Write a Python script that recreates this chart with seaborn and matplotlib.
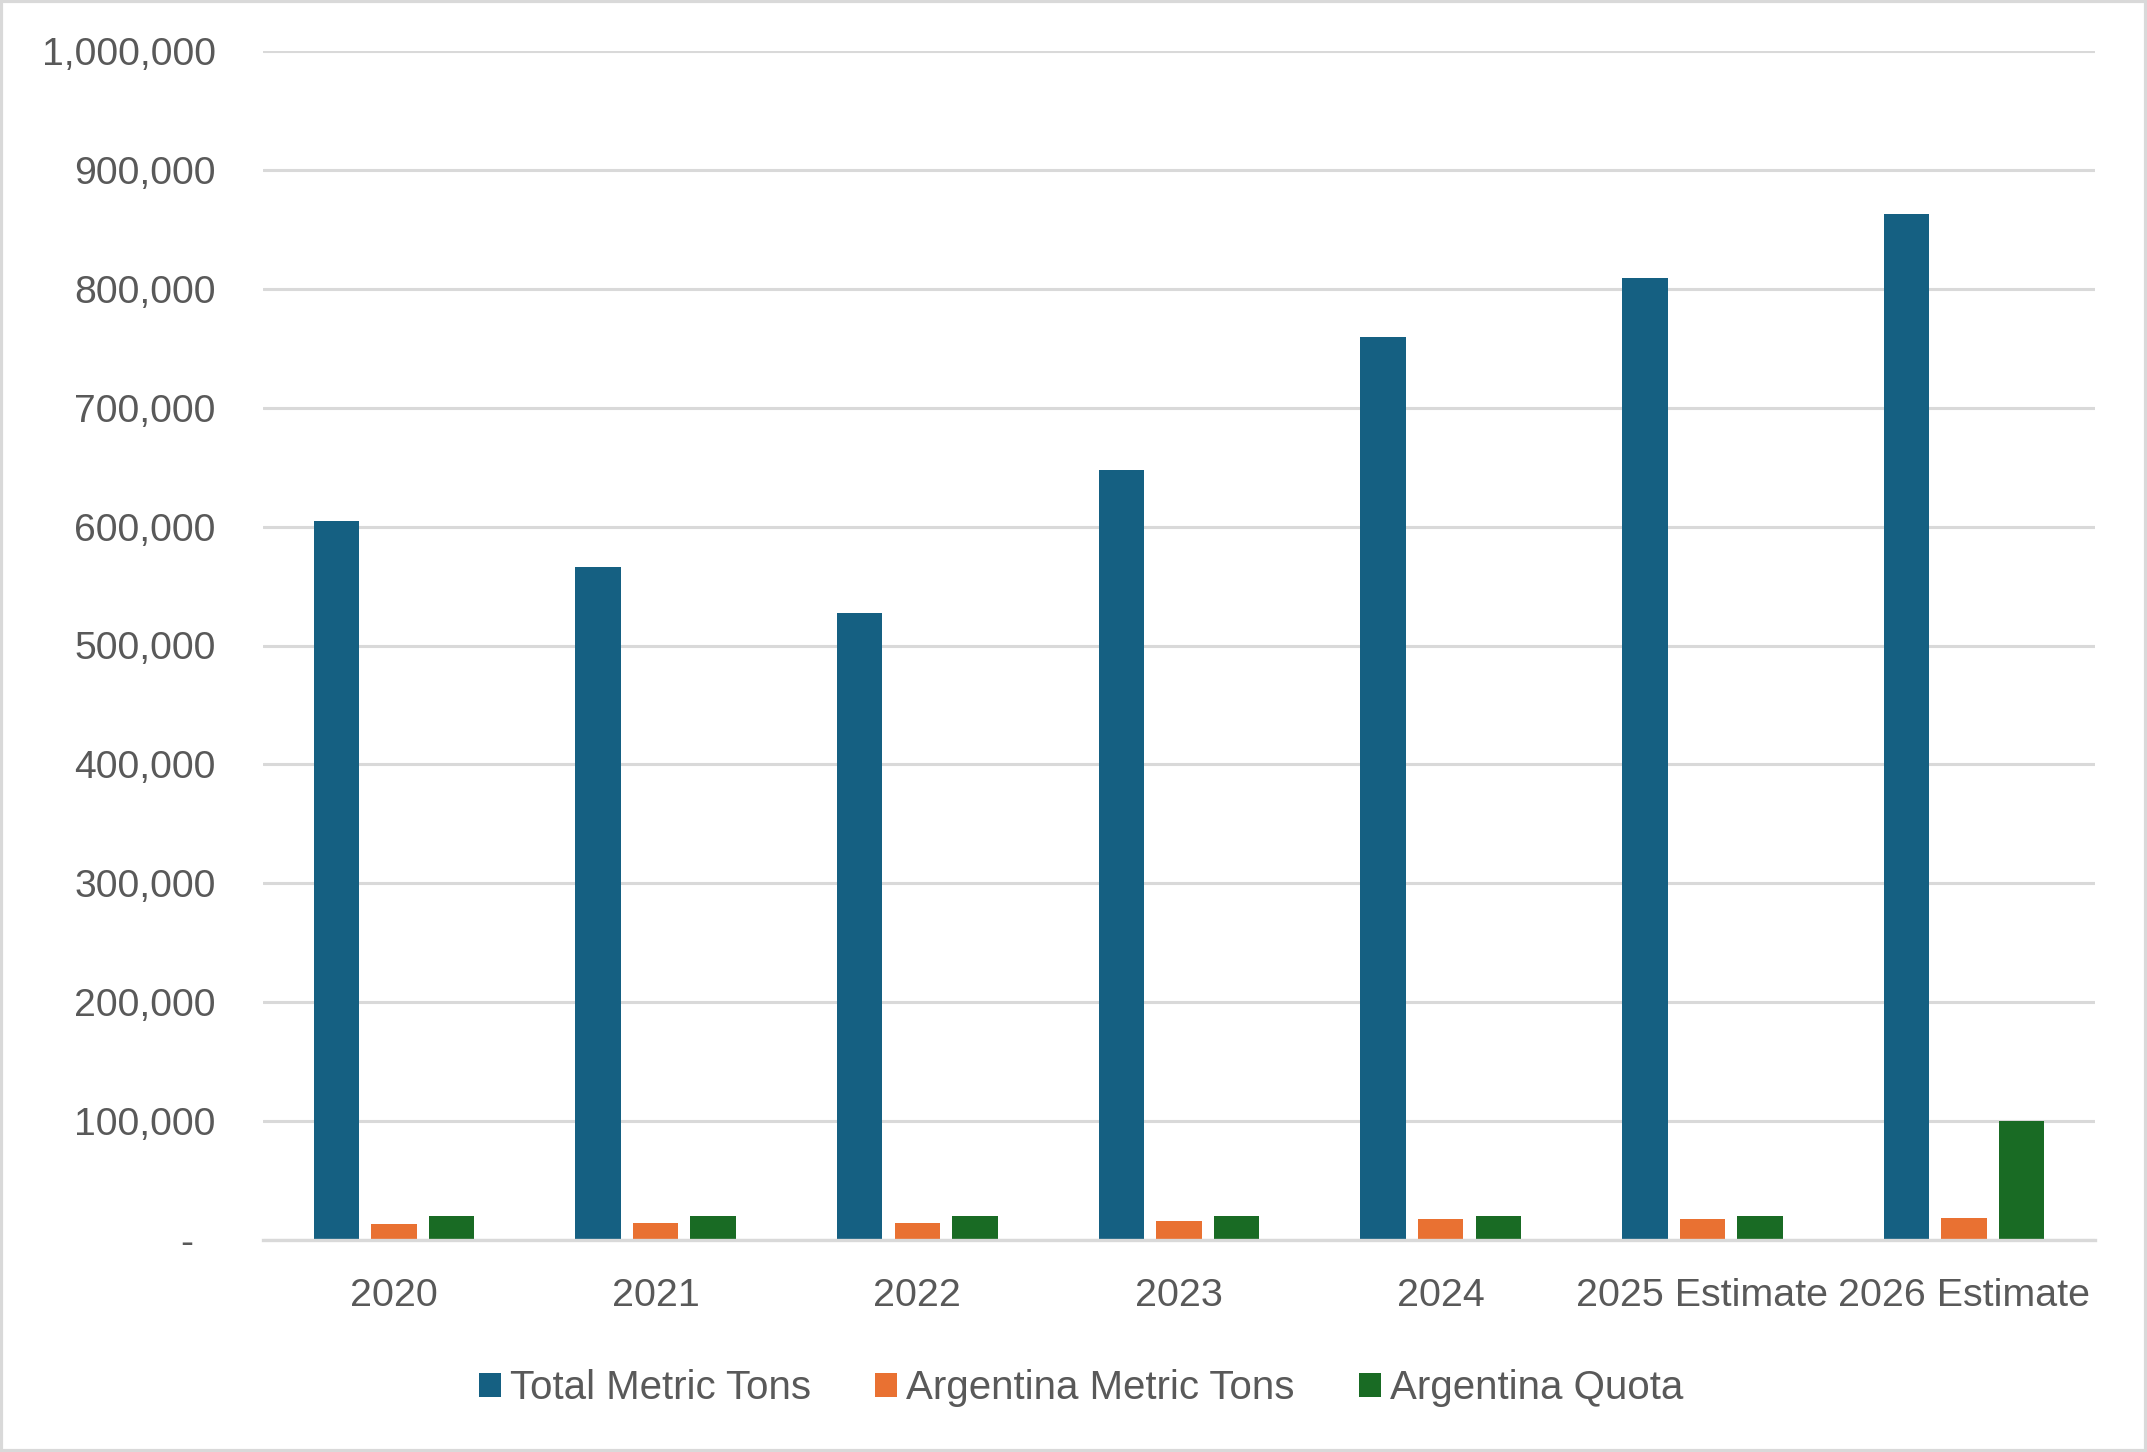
import matplotlib
matplotlib.use("Agg")
import matplotlib.pyplot as plt
import matplotlib.patches as mpatches
import seaborn as sns
import pandas as pd

categories = ["2020", "2021", "2022", "2023", "2024", "2025 Estimate", "2026 Estimate"]
total_metric_tons = [604800, 566000, 527000, 647400, 759700, 808700, 862800]
argentina_metric_tons = [13500, 14300, 14300, 16000, 17700, 17700, 18500]
argentina_quota = [20000, 20000, 20000, 20000, 20000, 20000, 100000]
series_names = ["Total Metric Tons", "Argentina Metric Tons", "Argentina Quota"]
colors = ["#156082", "#E97132", "#196B24"]
y_ticks = [0, 100000, 200000, 300000, 400000, 500000, 600000, 700000, 800000, 900000, 1000000]

rows = []
for name, vals in zip(series_names, [total_metric_tons, argentina_metric_tons, argentina_quota]):
    for c, v in zip(categories, vals):
        rows.append({"Year": c, "Series": name, "Value": v})
df = pd.DataFrame(rows)

sns.set_theme(style="white")
plt.rcParams["font.family"] = ["Liberation Sans", "DejaVu Sans"]

W, H, DPI = 2147, 1452, 200
fig = plt.figure(figsize=(W / DPI, H / DPI), dpi=DPI)
ax = fig.add_axes([263 / W, 1 - 1240 / H, (2095 - 263) / W, (1240 - 51) / H])

sns.barplot(data=df, x="Year", y="Value", hue="Series", order=categories,
            hue_order=series_names, palette=colors, width=0.66, gap=0.21,
            linewidth=0, saturation=1, ax=ax, errorbar=None)

ax.set_xlim(-0.5, len(categories) - 0.5)
ax.set_ylim(0, 1000000)
ax.set_yticks(y_ticks)
ax.set_yticklabels(["-  " if v == 0 else f"{v:,.0f}" for v in y_ticks])
ax.set_xlabel("")
ax.set_ylabel("")
ax.yaxis.grid(True, color="#D9D9D9", linewidth=1.1)
ax.set_axisbelow(True)
for s in ["left", "right", "top"]:
    ax.spines[s].set_visible(False)
ax.spines["bottom"].set_color("#D9D9D9")
ax.spines["bottom"].set_linewidth(1.2)
ax.tick_params(axis="y", length=0, pad=17, labelsize=14.1, labelcolor="#595959")
ax.tick_params(axis="x", length=0, pad=13.5, labelsize=14.2, labelcolor="#595959")

if ax.get_legend() is not None:
    ax.get_legend().remove()
handles = [mpatches.Patch(facecolor=c, edgecolor="none") for c in colors]
leg = fig.legend(handles, series_names, loc="center", bbox_to_anchor=(0.5035, 1 - 1388 / H),
                 ncol=3, frameon=False, fontsize=14.5, handlelength=0.55, handleheight=0.55,
                 handletextpad=0.22, columnspacing=1.6, labelcolor="#595959")

fig.patches.append(mpatches.Rectangle((0.0005, 0.0007), 0.999, 0.9986, transform=fig.transFigure,
                                      fill=False, edgecolor="#D9D9D9", linewidth=1.5))

fig.savefig("out.png", dpi=DPI)
